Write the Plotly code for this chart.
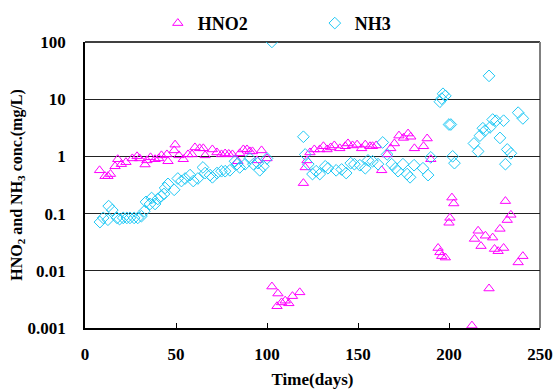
import plotly.graph_objects as go

hno2_days = [8, 11, 12.6, 14, 16.5, 18, 20, 22.5, 26, 28.6, 30, 33, 34, 36, 38.5, 40.5, 42, 45, 45.6, 49,
             49.5, 51.6, 54, 56.6, 58.8, 60.4, 63, 65, 66, 70, 72.5, 75, 77, 79, 81, 84, 85, 87, 89, 90.6,
             92, 94.5, 97, 100, 102.7, 105.5, 106, 108, 110, 112, 114, 118, 120, 121, 122, 123.6, 126, 129,
             131, 133, 135, 137, 140, 143, 144.5, 147, 149.5, 152, 154, 156.6, 158, 160, 163, 166, 168, 170,
             172.5, 175, 177.5, 179, 181, 186, 188, 190, 194, 195, 196, 198, 200, 200.5, 201.6, 202.6,
             212.6, 214, 216, 217.6, 220, 222, 224, 225, 227, 228, 230, 231, 232, 234, 238, 240.6]
hno2_vals = [0.57, 0.45, 0.45, 0.49, 0.67, 0.89, 0.73, 0.79, 0.92, 1.0, 0.92, 0.72, 0.85, 0.96, 0.89, 0.92,
             1.04, 1.08, 0.82, 1.27, 1.6, 1.04, 0.89, 1.08, 1.08, 1.43, 1.38, 1.38, 1.04, 1.32, 1.17, 1.08,
             1.12, 1.1, 1.08, 0.82, 1.13, 1.32, 1.32, 1.22, 1.22, 0.85, 1.27, 0.92, 0.0053, 0.0024, 0.004,
             0.0028, 0.003, 0.0027, 0.0036, 0.0042, 0.34, 0.64, 0.85, 1.17, 1.32, 1.32, 1.5, 1.32, 1.43,
             1.55, 1.38, 1.5, 1.68, 1.55, 1.6, 1.38, 1.6, 1.5, 1.5, 1.55, 0.57, 1.08, 1.38, 1.68, 2.3, 2.1,
             2.5, 2.2, 1.38, 1.5, 2.05, 0.89, 0.025, 0.021, 0.018, 0.017, 0.069, 0.084, 0.19, 0.15,
             0.0011, 0.036, 0.05, 0.027, 0.041, 0.0049, 0.038, 0.024, 0.022, 0.054, 0.025, 0.165, 0.077,
             0.095, 0.014, 0.018]

nh3_days = [8.2, 10, 12.6, 13, 15, 17.6, 19, 21, 23, 24.7, 27, 29, 31, 32.6, 33.5, 35.7, 36.6, 38.5, 40,
            41.8, 43.4, 44, 45.6, 49, 51, 53, 55, 57.7, 59.5, 62, 64.8, 66, 68.7, 70, 72.5, 75, 77, 79.6,
            82.4, 83.5, 85, 88, 90.6, 92.5, 95, 96, 98, 100, 102.7, 120, 121, 122.7, 125, 127, 129, 132,
            133.5, 138, 141, 143.5, 146, 148, 151, 154, 155.5, 158, 161, 163.6, 166, 168.5, 170.5, 172,
            174.7, 177, 178.6, 180.8, 185.7, 188.5, 190, 195, 196, 196.7, 198, 200, 201, 202, 203, 213.7,
            216, 217, 218.6, 219.7, 222, 222.5, 224, 226, 228, 230, 231, 232, 234, 238, 240.6]
nh3_vals = [0.071, 0.084, 0.078, 0.135, 0.115, 0.084, 0.08, 0.084, 0.084, 0.084, 0.084, 0.084, 0.09, 0.11,
            0.16, 0.147, 0.187, 0.147, 0.18, 0.2, 0.22, 0.28, 0.33, 0.26, 0.41, 0.37, 0.41, 0.47, 0.37,
            0.41, 0.64, 0.51, 0.47, 0.43, 0.51, 0.55, 0.55, 0.57, 0.82, 0.73, 0.64, 0.73, 0.92, 0.73, 0.76,
            0.57, 0.67, 0.92, 100, 2.2, 1.08, 0.73, 0.49, 0.55, 0.49, 0.67, 0.62, 0.57, 0.59, 0.51, 0.76,
            0.73, 0.7, 0.62, 0.85, 0.82, 0.73, 1.75, 1.08, 0.73, 0.62, 0.55, 0.73, 0.49, 0.43, 0.7, 0.62,
            0.47, 0.96, 9.0, 10.2, 12.4, 11.4, 3.6, 3.6, 1.0, 0.76, 1.68, 1.22, 2.3, 3.1, 2.8, 25.5, 3.2,
            4.4, 4.2, 2.1, 4.2, 0.73, 1.32, 1.13, 5.8, 4.6]

y_tickvals = [0.001, 0.01, 0.1, 1, 10, 100]
y_ticktext = ["0.001", "0.01", "0.1", "1", "10", "100"]
x_tickvals = [0, 50, 100, 150, 200, 250]

FONT = "'Liberation Serif', 'Times New Roman', serif"
MAG = "#FF00FF"
CYAN = "#1EC8F5"

fig = go.Figure()
fig.add_trace(go.Scatter(x=hno2_days, y=hno2_vals, mode="markers", name="HNO2",
                         marker=dict(symbol="triangle-up-open", size=9, color=MAG, line=dict(width=1, color=MAG))))
fig.add_trace(go.Scatter(x=nh3_days, y=nh3_vals, mode="markers", name="NH3",
                         marker=dict(symbol="diamond-open", size=9, color=CYAN, line=dict(width=1, color=CYAN))))

fig.update_layout(
    width=555, height=390,
    margin=dict(l=85, r=15, t=40, b=62),
    paper_bgcolor="white", plot_bgcolor="white",
    font=dict(family=FONT, size=16, color="black"),
    showlegend=True,
    legend=dict(orientation="h", x=0.16, xanchor="left", yref="container", y=0.94, yanchor="middle",
                font=dict(family=FONT, size=18, color="black", weight="bold"),
                entrywidth=112, bgcolor="rgba(0,0,0,0)"),
    xaxis=dict(range=[0, 250], tickvals=x_tickvals, ticks="inside", ticklen=5, tickcolor="black",
               showline=True, linecolor="black", linewidth=1.5, mirror=False, showgrid=False, zeroline=False,
               automargin=False, ticklabelstandoff=10,
               tickfont=dict(family=FONT, size=17, weight="bold"),
               title=dict(text="Time(days)", font=dict(family=FONT, size=17, weight="bold"), standoff=10)),
    yaxis=dict(type="log", range=[-3, 2], tickvals=y_tickvals, ticktext=y_ticktext, ticks="",
               showline=True, linecolor="black", linewidth=1.5, showgrid=True, gridcolor="#222222",
               gridwidth=1, zeroline=False, automargin=False, ticklabelstandoff=14,
               tickfont=dict(family=FONT, size=17, weight="bold"),
               title=dict(text="HNO<sub>2</sub> and NH<sub>3</sub> conc.(mg/L)",
                          font=dict(family=FONT, size=16, weight="bold"), standoff=1)),
    shapes=[
        dict(type="line", xref="paper", yref="paper", x0=0, x1=1, y0=1, y1=1, line=dict(color="black", width=1.5), layer="below"),
        dict(type="line", xref="paper", yref="paper", x0=1, x1=1, y0=0, y1=1, line=dict(color="#808080", width=2), layer="below"),
    ],
)

fig.write_html("out.html", config={"displayModeBar": False},
               post_script="document.body.style.margin='0';")
